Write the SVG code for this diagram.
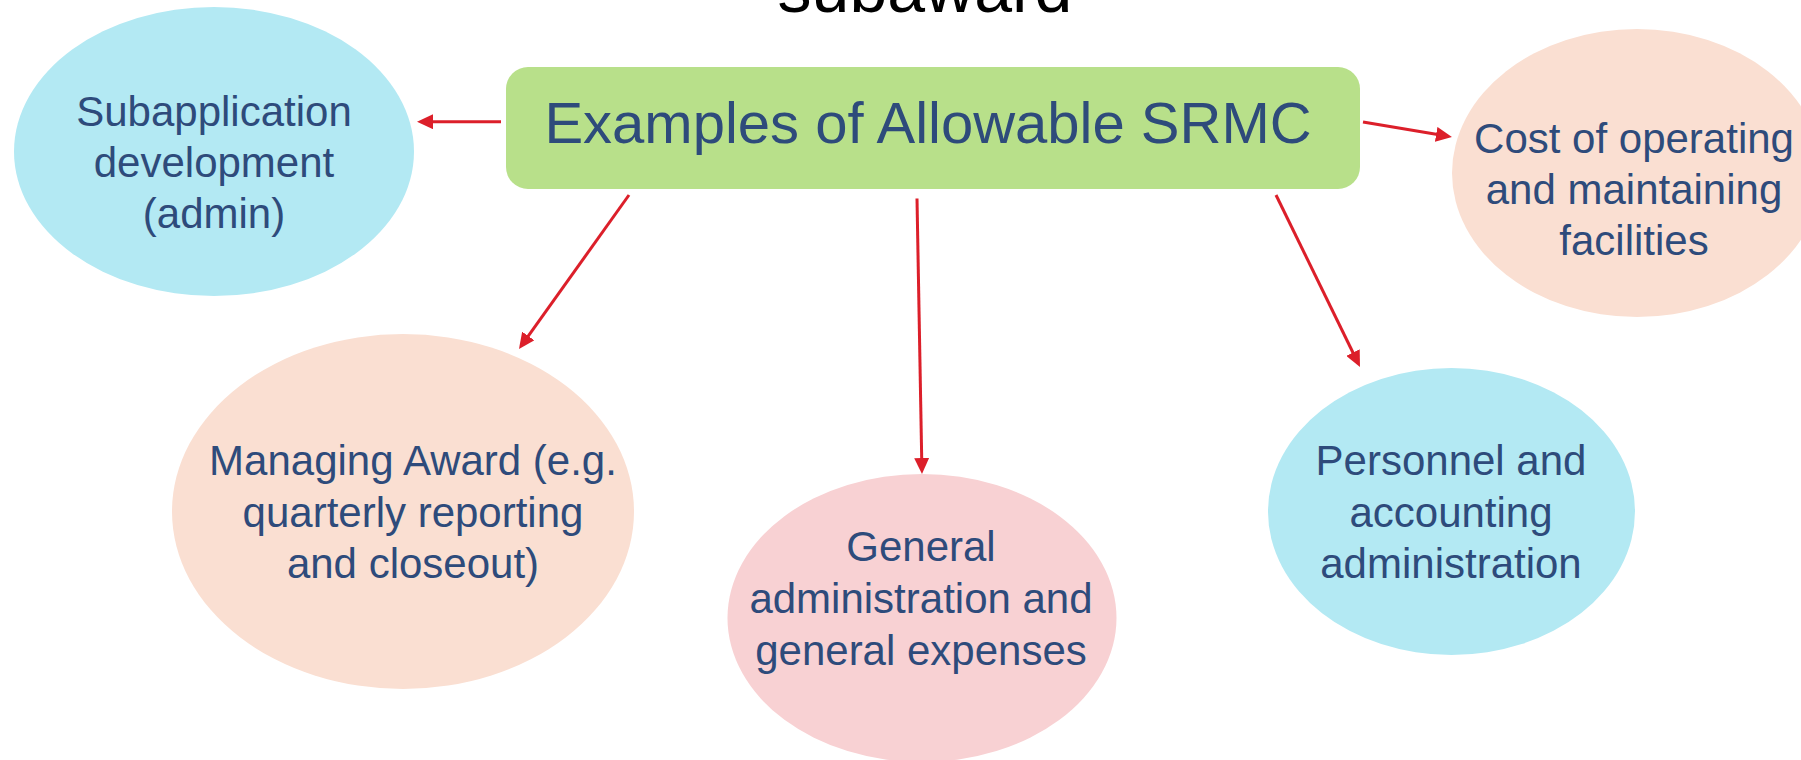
<svg xmlns="http://www.w3.org/2000/svg" width="1801" height="760" viewBox="0 0 1801 760">
<style>
.t{font-family:"Liberation Sans",Arial,sans-serif;fill:#2E4B7B;text-anchor:middle;font-size:42px}
.c{stroke:#DC1F2A;stroke-width:3;fill:none}
.blue{fill:#B3E9F3}
.peach{fill:#FADFD2}
.pink{fill:#F8D1D3}
</style>
<defs>
<marker id="ah" markerUnits="userSpaceOnUse" markerWidth="16" markerHeight="15" refX="6" refY="7.5" orient="auto" viewBox="0 0 16 15">
<path d="M0,0 L16,7.5 L0,15 z" fill="#DC1F2A"/>
</marker>
</defs>
<rect width="1801" height="760" fill="#FFFFFF"/>
<text x="925" y="12" style="font-family:'Liberation Sans',Arial,sans-serif;font-size:68px;fill:#000;text-anchor:middle">subaward</text>
<g id="center">
<rect x="506" y="67" width="854" height="122" rx="22" ry="22" fill="#B8E08A"/>
<text x="928" y="143" class="t" style="font-size:58px">Examples of Allowable SRMC</text>
</g>
<g id="n-subapp">
<ellipse cx="214" cy="151.5" rx="200" ry="144.5" class="blue"/>
<text class="t" x="214" y="126">Subapplication</text>
<text class="t" x="214" y="177">development</text>
<text class="t" x="214" y="228">(admin)</text>
</g>
<g id="n-cost">
<ellipse cx="1637" cy="173" rx="185" ry="144" class="peach"/>
<text class="t" x="1634" y="153">Cost of operating</text>
<text class="t" x="1634" y="204">and maintaining</text>
<text class="t" x="1634" y="255">facilities</text>
</g>
<g id="n-managing">
<ellipse cx="403" cy="511.5" rx="231" ry="177.5" class="peach"/>
<text class="t" x="413" y="475">Managing Award (e.g.</text>
<text class="t" x="413" y="527">quarterly reporting</text>
<text class="t" x="413" y="578">and closeout)</text>
</g>
<g id="n-general">
<ellipse cx="922" cy="618" rx="194.5" ry="144" class="pink"/>
<text class="t" x="921" y="561">General</text>
<text class="t" x="921" y="613">administration and</text>
<text class="t" x="921" y="665">general expenses</text>
</g>
<g id="n-personnel">
<ellipse cx="1451.5" cy="511.5" rx="183.5" ry="143.5" class="blue"/>
<text class="t" x="1451" y="475">Personnel and</text>
<text class="t" x="1451" y="527">accounting</text>
<text class="t" x="1451" y="578">administration</text>
</g>
<g id="connectors">
<line class="c" x1="501" y1="121.7" x2="427" y2="121.7" marker-end="url(#ah)"/>
<line class="c" x1="1363" y1="122" x2="1442.1" y2="135.3" marker-end="url(#ah)"/>
<line class="c" x1="629" y1="195" x2="524.8" y2="340.9" marker-end="url(#ah)"/>
<line class="c" x1="917" y1="198.5" x2="921.8" y2="464" marker-end="url(#ah)"/>
<line class="c" x1="1276" y1="195" x2="1355.6" y2="358" marker-end="url(#ah)"/>
</g>
</svg>
